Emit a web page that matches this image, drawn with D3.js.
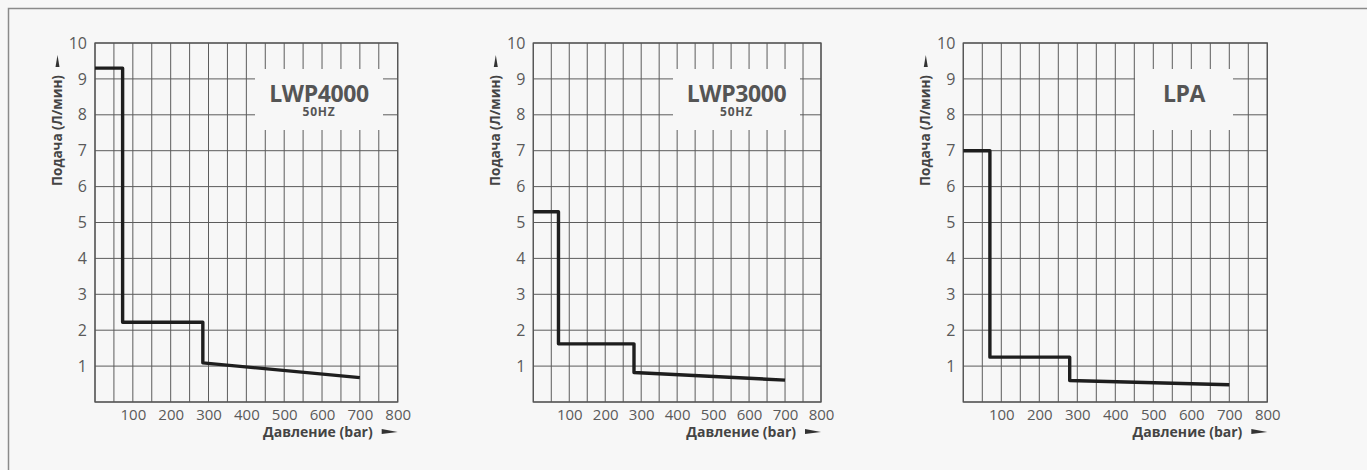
<!DOCTYPE html>
<html>
<head>
<meta charset="utf-8">
<script src="https://cdn.jsdelivr.net/npm/d3@7"></script>
<style>
  html, body { margin: 0; padding: 0; background: #f7f7f7; }
  svg { display: block; font-family: "Open Sans", sans-serif; }
</style>
</head>
<body>
<svg id="chart" width="1367" height="470"></svg>
<script>
// values
var models = ["LWP4000", "LWP3000", "LPA"];
var subtitles = ["50HZ", "50HZ", ""];
var pressureTicks = [100, 200, 300, 400, 500, 600, 700, 800];
var flowTicks = [1, 2, 3, 4, 5, 6, 7, 8, 9, 10];
var lwp4000 = [[0, 9.3], [73, 9.3], [73, 2.22], [285, 2.22], [285, 1.09], [700, 0.68]];
var lwp3000 = [[0, 5.3], [70, 5.3], [70, 1.62], [280, 1.62], [280, 0.82], [700, 0.61]];
var lpa = [[0, 7.0], [70, 7.0], [70, 1.25], [280, 1.25], [280, 0.6], [700, 0.48]];
var curves = [lwp4000, lwp3000, lpa];

var xLabel = "Давление (bar)";
var yLabel = "Подача (Л/мин)";

// layout of the three panels
var panels = [
    { left: 95, right: 397.7, box: [255, 383] },
    { left: 533.3, right: 821, box: [673, 800] },
    { left: 963.3, right: 1267.3, box: [1135, 1233] }
];
var plotTop = 43, plotBottom = 402;

var svg = d3.select("#chart");

// outer frame (only top and left edge are visible)
svg.append("path")
    .attr("d", "M8.5,470 L8.5,8.5 L1367,8.5")
    .attr("fill", "none")
    .attr("stroke", "#8a8a8a")
    .attr("stroke-width", 1.5);

panels.forEach(function (p, i) {
    var x = d3.scaleLinear().domain([0, 800]).range([p.left, p.right]);
    var y = d3.scaleLinear().domain([0, 10]).range([plotBottom, plotTop]);
    var g = svg.append("g");

    // grid
    g.selectAll(".vgrid")
        .data(d3.range(0, 801, 50))
        .enter().append("line")
        .attr("x1", function (d) { return x(d); })
        .attr("x2", function (d) { return x(d); })
        .attr("y1", y(0)).attr("y2", y(10))
        .attr("stroke", "#5c5c5c").attr("stroke-width", 1);
    g.selectAll(".hgrid")
        .data(d3.range(0, 11, 1))
        .enter().append("line")
        .attr("x1", x(0)).attr("x2", x(800))
        .attr("y1", function (d) { return y(d); })
        .attr("y2", function (d) { return y(d); })
        .attr("stroke", "#5c5c5c").attr("stroke-width", 1);
    g.append("rect")
        .attr("x", x(0)).attr("y", y(10))
        .attr("width", x(800) - x(0)).attr("height", y(0) - y(10))
        .attr("fill", "none").attr("stroke", "#555").attr("stroke-width", 1.3);

    // title box covering the grid
    g.append("rect")
        .attr("x", p.box[0]).attr("y", 69)
        .attr("width", p.box[1] - p.box[0]).attr("height", 61)
        .attr("fill", "#f7f7f7");
    var cx = (p.box[0] + p.box[1]) / 2;
    g.append("text")
        .attr("x", cx).attr("y", 101.5)
        .attr("text-anchor", "middle")
        .attr("font-size", 23).attr("font-weight", "bold")
        .attr("letter-spacing", -0.4)
        .attr("fill", "#555")
        .text(models[i]);
    if (subtitles[i]) {
        g.append("text")
            .attr("x", cx).attr("y", 115.5)
            .attr("text-anchor", "middle")
            .attr("font-size", 12).attr("font-weight", "bold")
            .attr("letter-spacing", 0.8)
            .attr("fill", "#555")
            .text(subtitles[i]);
    }

    // axes
    var xAxis = g.append("g")
        .attr("transform", "translate(0," + plotBottom + ")")
        .call(d3.axisBottom(x).tickValues(pressureTicks).tickSize(0).tickPadding(7));
    xAxis.select(".domain").remove();
    xAxis.selectAll("text")
        .attr("font-size", 15).attr("fill", "#5a5a5a")
        .attr("font-family", "Open Sans, sans-serif");

    var yAxis = g.append("g")
        .attr("transform", "translate(" + p.left + ",0)")
        .call(d3.axisLeft(y).tickValues(flowTicks).tickSize(0).tickPadding(8));
    yAxis.select(".domain").remove();
    yAxis.selectAll("text")
        .attr("font-size", 16).attr("fill", "#5a5a5a")
        .attr("font-family", "Open Sans, sans-serif");

    // axis titles with arrows
    g.append("text")
        .attr("x", p.right - 25).attr("y", 437)
        .attr("text-anchor", "end")
        .attr("font-size", 14).attr("font-weight", "bold")
        .attr("fill", "#444")
        .text(xLabel);
    g.append("path")
        .attr("d", "M" + (p.right - 16) + ",429 L" + p.right + ",432 L" + (p.right - 16) + ",434 Z")
        .attr("fill", "#333");

    var ly = p.left - 33;
    g.append("text")
        .attr("transform", "translate(" + ly + ",130.5) rotate(-90)")
        .attr("text-anchor", "middle")
        .attr("font-size", 13.5).attr("font-weight", "bold")
        .attr("fill", "#444")
        .text(yLabel);
    g.append("path")
        .attr("d", "M" + (ly - 6.5) + ",67 L" + (ly - 4.5) + ",55 L" + (ly - 2.5) + ",67 Z")
        .attr("fill", "#333");

    // curve
    var line = d3.line()
        .x(function (d) { return x(d[0]); })
        .y(function (d) { return y(d[1]); });
    g.append("path")
        .datum(curves[i])
        .attr("d", line)
        .attr("fill", "none")
        .attr("stroke", "#1e1e1e")
        .attr("stroke-width", 3.4)
        .attr("stroke-linejoin", "round");
});
</script>
</body>
</html>
